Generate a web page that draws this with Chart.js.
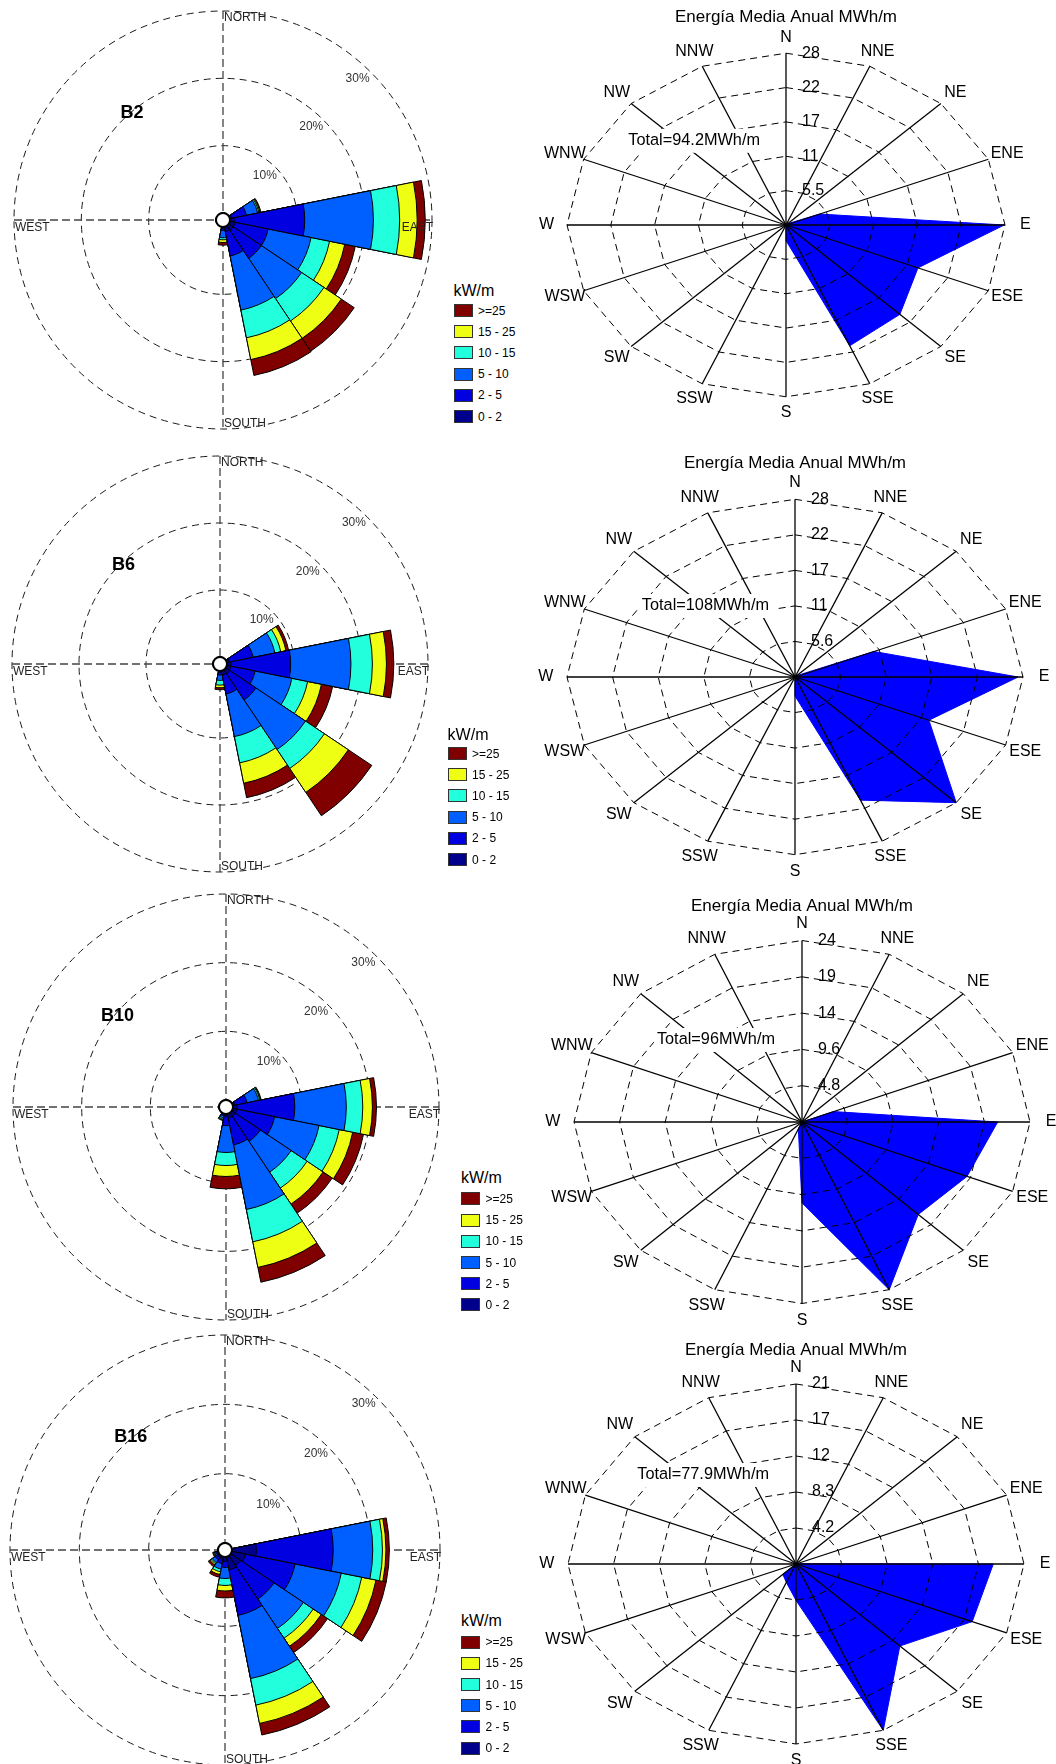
<!DOCTYPE html>
<html><head><meta charset="utf-8">
<script src="https://cdn.jsdelivr.net/npm/chart.js@4/dist/chart.umd.min.js"></script>
<style>
html,body{margin:0;padding:0;background:#fff;}
body{width:1056px;height:1764px;position:relative;overflow:hidden;font-family:'Liberation Sans',Arial,sans-serif;}
canvas{position:absolute;}
.lt{position:absolute;font-size:16px;line-height:18px;color:#000;white-space:nowrap;}
.sw{position:absolute;width:19px;height:13px;box-sizing:border-box;border:1px solid #333;}
.lx{position:absolute;font-size:12px;line-height:14px;color:#000;white-space:nowrap;}
</style></head><body>
<script>
const FONT = "'Liberation Sans', Arial, sans-serif";

// ---------- categories ----------
const directions = ['N','NNE','NE','ENE','E','ESE','SE','SSE','S','SSW','SW','WSW','W','WNW','NW','NNW'];
const compassLabels = ['NORTH','SOUTH','WEST','EAST'];
const speedBins = ['0 - 2','2 - 5','5 - 10','10 - 15','15 - 25','>=25'];
const binColors = ['#00008c','#0000e0','#0060ff','#22ffdd','#eeff14','#800000'];
const roseRings = [10, 20, 30];
const roseRingLabels = ['10%','20%','30%'];
const stationNames = ['B2','B6','B10','B16'];
const legendTitle = 'kW/m';
const energyTitle = 'Energía Media Anual MWh/m';

// ---------- rose frequencies (%) per power class ----------
const b2P0to2   = [0,0,0,0.3,0.6,0.8,0.8,0.7,0.2,0,0,0,0,0,0,0];
const b2P2to5   = [0,0,0,2.2,10.5,5.0,5.0,3.7,0.3,0,0,0,0,0,0,0];
const b2P5to10  = [0,0,0,1.7,10.2,6.5,7.2,8.2,1.1,0,0,0,0,0,0,0];
const b2P10to15 = [0,0,0,0.2,3.9,2.8,4.0,4.2,0.3,0,0,0,0,0,0,0];
const b2P15to25 = [0,0,0,0.15,2.6,2.3,3.1,3.3,0.4,0,0,0,0,0,0,0];
const b2P25up   = [0,0,0,0.15,1.2,1.6,2.3,2.4,0.4,0,0,0,0,0,0,0];

const b6P0to2   = [0,0,0,0.4,0.6,0.6,0.7,0.6,0.2,0,0,0,0,0,0,0];
const b6P2to5   = [0,0,0,3.6,8.9,3.7,4.7,2.9,0.4,0,0,0,0,0,0,0];
const b6P5to10  = [0,0,0,3.3,9.0,5.6,8.9,6.5,0.8,0,0,0,0,0,0,0];
const b6P10to15 = [0,0,0,0.9,3.2,2.4,3.4,4.0,0.7,0,0,0,0,0,0,0];
const b6P15to25 = [0,0,0,0.8,2.1,2.1,4.3,3.1,0.4,0,0,0,0,0,0,0];
const b6P25up   = [0,0,0,0.4,1.1,1.7,4.2,2.2,0.3,0,0,0,0,0,0,0];

const b10P0to2   = [0,0,0,0.3,0.6,0.6,0.6,0.6,0.3,0.1,0,0,0,0,0,0];
const b10P2to5   = [0,0,0,1.8,8.4,5.6,4.4,4.0,1.4,0.2,0,0,0,0,0,0];
const b10P5to10  = [0,0,0,1.7,7.5,6.6,5.4,9.6,3.9,0.3,0,0,0,0,0,0];
const b10P10to15 = [0,0,0,0.2,2.4,3.0,2.8,4.8,1.9,0.2,0,0,0,0,0,0];
const b10P15to25 = [0,0,0,0.1,1.4,2.0,2.8,3.8,1.6,0.1,0,0,0,0,0,0];
const b10P25up   = [0,0,0,0.1,0.6,1.6,1.6,2.2,1.8,0.1,0,0,0,0,0,0];

const b16P0to2   = [0,0,0,0,3.5,2.0,1.7,1.9,0.6,0.4,0.3,0.1,0,0,0,0];
const b16P2to5   = [0,0,0,0,11.1,7.3,5.8,6.7,0.9,0.6,0.4,0.2,0,0,0,0];
const b16P5to10  = [0,0,0,0,5.7,6.8,5.1,9.3,1.6,0.8,0.5,0.2,0,0,0,0];
const b16P10to15 = [0,0,0,0,1.4,3.0,1.7,3.9,1.0,0.4,0.2,0.1,0,0,0,0];
const b16P15to25 = [0,0,0,0,0.5,2.1,1.4,2.7,0.8,0.4,0.2,0.1,0,0,0,0];
const b16P25up   = [0,0,0,0,0.5,1.5,1.1,1.7,1.0,0.4,0.3,0.1,0,0,0,0];

// ---------- mean annual energy (MWh/m) per direction ----------
const energyB2  = [0,0,0.3,4.6,27.5,18.0,20.3,21.0,2.5,0,0,0,0,0,0,0];
const energyB6  = [0,0,0.3,10.5,27.4,17.8,28.0,21.0,3.0,0,0,0,0,0,0,0];
const energyB10 = [0,0,0,3.6,20.6,18.8,17.3,24.0,10.7,1.0,0,0,0,0,0,0];
const energyB16 = [0,0,0,0.1,18.0,17.4,13.4,20.8,4.2,2.3,1.7,0,0,0,0,0];
const energyMax = [27.6, 28, 24, 20.8];
const energyTickLabels = [
  ['5.5','11','17','22','28'],
  ['5.6','11','17','22','28'],
  ['4.8','9.6','14','19','24'],
  ['4.2','8.3','12','17','21']
];
const energyTotals = ['94.2','108','96','77.9'];

const roseBins = [
  [b2P0to2, b2P2to5, b2P5to10, b2P10to15, b2P15to25, b2P25up],
  [b6P0to2, b6P2to5, b6P5to10, b6P10to15, b6P15to25, b6P25up],
  [b10P0to2, b10P2to5, b10P5to10, b10P10to15, b10P15to25, b10P25up],
  [b16P0to2, b16P2to5, b16P5to10, b16P10to15, b16P15to25, b16P25up]
];
const energySeries = [energyB2, energyB6, energyB10, energyB16];

// ---------- layout (positions only) ----------
const rows = [
  {top:0,    rose:{cx:223.3,cy:220,  R:209},   title:{dx:-102.6,dy:-107.3}, legend:{x:453.5,ty:290.7,y0:310.4},
   radar:{cx:786.3,cy:225.8,a:219,b:171.8,titleY:17.4},  total:{dx:-26,y:140.8}},
  {top:440,  rose:{cx:220.7,cy:224,  R:208},   title:{dx:-108,dy:-99},      legend:{x:447.6,ty:294.4,y0:313.5},
   radar:{cx:795.7,cy:237.7,a:228,b:177.7,titleY:23.3},  total:{dx:-26,y:166}},
  {top:880,  rose:{cx:226.7,cy:227.7,R:213.7}, title:{dx:-125,dy:-91},      legend:{x:461,ty:297.5,y0:318.8},
   radar:{cx:802,cy:242.5,a:228,b:181.5,titleY:26.3},    total:{dx:-27,y:160}},
  {top:1320, rose:{cx:225.7,cy:230,  R:215},   title:{dx:-110.7,dy:-113.3}, legend:{x:461,ty:300.6,y0:322},
   radar:{cx:796,cy:244.9,a:228,b:180,titleY:30.6},      total:{dx:-27,y:155}}
];

Chart.defaults.font.family = FONT;

class EllipticRadialScale extends Chart.RadialLinearScale {
  static id = 'ellipticRadial';
  getPointPosition(index, distanceFromCenter, additionalAngle = 0) {
    const angle = this.getIndexAngle(index) - Math.PI / 2 + additionalAngle;
    const k = this.options.verticalRatio || 1;
    return {
      x: Math.cos(angle) * distanceFromCenter + this.xCenter,
      y: Math.sin(angle) * distanceFromCenter * k + this.yCenter,
      angle
    };
  }
}
Chart.register(EllipticRadialScale);

function addCanvas(left, top, w, h) {
  const cv = document.createElement('canvas');
  cv.width = w; cv.height = h;
  cv.style.left = left + 'px'; cv.style.top = top + 'px';
  cv.style.width = w + 'px'; cv.style.height = h + 'px';
  document.body.appendChild(cv);
  return cv;
}

function roseDecor(row, idx) {
  return {
    id: 'roseDecor',
    beforeDatasetsDraw(chart) {
      const s = chart.scales.r, ctx = chart.ctx, R = s.drawingArea;
      ctx.save();
      ctx.strokeStyle = '#444'; ctx.lineWidth = 1.3; ctx.setLineDash([8, 4]);
      ctx.beginPath();
      ctx.moveTo(s.xCenter, s.yCenter - R); ctx.lineTo(s.xCenter, s.yCenter + R);
      ctx.moveTo(s.xCenter - R, s.yCenter); ctx.lineTo(s.xCenter + R, s.yCenter);
      ctx.stroke();
      ctx.restore();
    },
    afterDatasetsDraw(chart) {
      const s = chart.scales.r, ctx = chart.ctx, R = s.drawingArea, xc = s.xCenter, yc = s.yCenter;
      ctx.save();
      const r0 = s.getDistanceFromCenterForValue(0);
      ctx.setLineDash([]);
      ctx.beginPath(); ctx.arc(xc, yc, r0, 0, Math.PI * 2);
      ctx.fillStyle = '#fff'; ctx.fill();
      ctx.lineWidth = 2; ctx.strokeStyle = '#000'; ctx.stroke();

      ctx.font = '12px ' + FONT; ctx.fillStyle = '#222'; ctx.textBaseline = 'middle';
      ctx.textAlign = 'left';
      ctx.fillText(compassLabels[0], xc + 1, yc - R + 7);
      ctx.fillText(compassLabels[1], xc + 1, yc + R - 5);
      ctx.fillText(compassLabels[2], xc - R + 1, yc + 7.5);
      ctx.textAlign = 'right';
      ctx.fillText(compassLabels[3], xc + R + 1, yc + 7.5);

      ctx.textAlign = 'center'; ctx.fillStyle = '#333';
      const ang = 43.5 * Math.PI / 180;
      roseRings.forEach((v, i) => {
        const d = s.getDistanceFromCenterForValue(v) - 13.5;
        ctx.fillText(roseRingLabels[i], xc + d * Math.sin(ang), yc - d * Math.cos(ang));
      });

      ctx.font = 'bold 18px ' + FONT; ctx.fillStyle = '#000'; ctx.textAlign = 'left';
      ctx.fillText(stationNames[idx], xc + row.title.dx, yc + row.title.dy);
      ctx.restore();
    }
  };
}

function radarDecor(row, idx) {
  return {
    id: 'radarDecor',
    afterDraw(chart) {
      const s = chart.scales.r, ctx = chart.ctx, k = s.options.verticalRatio;
      const xc = s.xCenter, yc = s.yCenter, A = s.drawingArea;
      ctx.save();
      ctx.font = '16px ' + FONT; ctx.fillStyle = '#000'; ctx.textBaseline = 'middle';
      ctx.textAlign = 'center';
      directions.forEach((d, i) => {
        const p = s.getPointPosition(i, A * 1.093);
        ctx.fillText(d, p.x, p.y);
      });
      ctx.textAlign = 'left';
      energyTickLabels[idx].forEach((t, j) => {
        const v = energyMax[idx] * (j + 1) / 5;
        const dist = s.getDistanceFromCenterForValue(v);
        ctx.fillText(t, xc + 16, yc - dist * k);
      });
      ctx.font = '17px ' + FONT;
      ctx.textAlign = 'center';
      ctx.fillText(energyTitle, xc, row.radar.titleY);
      ctx.font = '16.3px ' + FONT;
      const txt = 'Total=' + energyTotals[idx] + 'MWh/m';
      const w = ctx.measureText(txt).width;
      const xr = xc + row.total.dx, yt = row.total.y;
      ctx.fillStyle = '#fff'; ctx.fillRect(xr - w - 3, yt - 12, w + 8, 24);
      ctx.fillStyle = '#000'; ctx.textAlign = 'right';
      ctx.fillText(txt, xr, yt);
      ctx.restore();
    }
  };
}

function makeRose(row, idx) {
  const W = 450, H = 470;
  const cv = addCanvas(0, row.top, W, H);
  const {cx, cy, R} = row.rose;
  const r0 = 7;
  const rmin = -30 * r0 / (Math.floor(R) - r0);
  let run = new Array(16).fill(0);
  const datasets = roseBins[idx].map((bin, i) => {
    run = run.map((v, j) => v + bin[j]);
    return {label: speedBins[i], data: run.slice(), backgroundColor: binColors[i], borderColor: '#000', borderWidth: 1};
  });
  new Chart(cv, {
    type: 'polarArea',
    data: {labels: directions, datasets},
    options: {
      responsive: false, animation: false, devicePixelRatio: 1,
      layout: {padding: {left: cx - R, right: W - cx - R, top: cy - R, bottom: H - cy - R}},
      plugins: {legend: {display: false}, tooltip: {enabled: false}},
      scales: {r: {
        min: rmin, max: 30, startAngle: -11.25,
        afterBuildTicks: (s) => { s.ticks = roseRings.map(v => ({value: v})); },
        ticks: {display: false}, pointLabels: {display: false}, angleLines: {display: false},
        grid: {circular: true, color: '#1a1a1a', lineWidth: 1, borderDash: [7, 5]},
        border: {dash: [7, 5]}
      }}
    },
    plugins: [roseDecor(row, idx)]
  });
}

function makeRadar(row, idx) {
  const W = 536, H = 480, L = 520;
  const cv = addCanvas(L, row.top, W, H);
  const {cx, cy, a, b} = row.radar;
  const lx = cx - L;
  const mx = energyMax[idx];
  new Chart(cv, {
    type: 'radar',
    data: {labels: directions, datasets: [{
      data: energySeries[idx], backgroundColor: '#0000ff', borderColor: '#0000ff',
      borderWidth: 1, pointRadius: 0, fill: true, clip: false
    }]},
    options: {
      responsive: false, animation: false, devicePixelRatio: 1,
      layout: {padding: {left: lx - a, right: W - lx - a, top: cy - a, bottom: H - cy - a}},
      plugins: {legend: {display: false}, tooltip: {enabled: false}},
      scales: {r: {
        type: 'ellipticRadial', verticalRatio: b / a,
        min: 0, max: mx,
        afterBuildTicks: (s) => { s.ticks = [0,1,2,3,4,5].map(j => ({value: mx * j / 5})); },
        ticks: {display: false}, pointLabels: {display: false},
        grid: {z: 1, circular: false, color: '#000', lineWidth: 1, borderDash: [7, 5]},
        border: {dash: [7, 5]},
        angleLines: {display: true, color: '#000', lineWidth: 1.3, borderDash: []}
      }}
    },
    plugins: [radarDecor(row, idx)]
  });
}

function makeLegend(row) {
  const Lg = row.legend;
  const t = document.createElement('div');
  t.className = 'lt'; t.textContent = legendTitle;
  t.style.left = Lg.x + 'px'; t.style.top = (row.top + Lg.ty - 8.7) + 'px';
  document.body.appendChild(t);
  for (let i = 0; i < 6; i++) {
    const bin = 5 - i;
    const yc = row.top + Lg.y0 + i * 21.2;
    const sw = document.createElement('div');
    sw.className = 'sw'; sw.style.left = Lg.x + 'px'; sw.style.top = (yc - 6.5) + 'px';
    sw.style.background = binColors[bin];
    document.body.appendChild(sw);
    const tx = document.createElement('div');
    tx.className = 'lx'; tx.textContent = speedBins[bin];
    tx.style.left = (Lg.x + 24.5) + 'px'; tx.style.top = (yc - 6.9) + 'px';
    document.body.appendChild(tx);
  }
}

rows.forEach((row, i) => { makeRose(row, i); makeRadar(row, i); });
rows.forEach((row) => makeLegend(row));
</script>
</body></html>
